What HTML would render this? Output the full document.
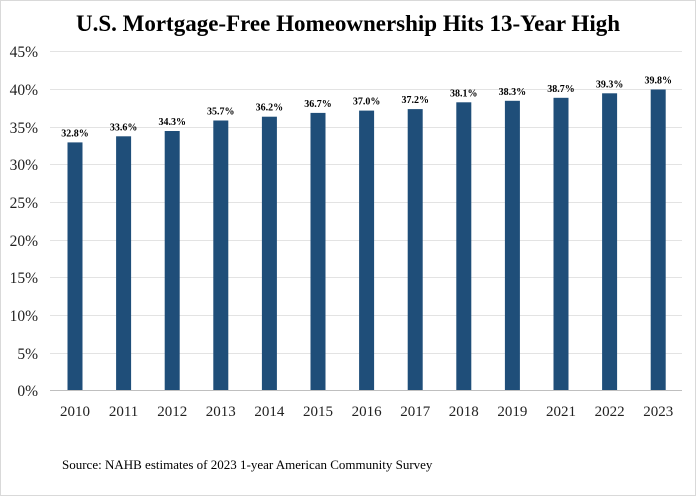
<!DOCTYPE html><html><head><style>body{margin:0;background:#fff}</style></head><body>
<svg width="696" height="496" xmlns="http://www.w3.org/2000/svg" font-family="Liberation Serif, serif">
<rect x="0.5" y="0.5" width="695" height="495" fill="#fff" stroke="#d9d9d9"/>
<text x="348" y="31" text-anchor="middle" font-size="23" font-weight="bold">U.S. Mortgage-Free Homeownership Hits 13-Year High</text>
<g stroke="#e3e3e3" stroke-width="1">
<line x1="50" x2="682" y1="51.5" y2="51.5"/><line x1="50" x2="682" y1="89.5" y2="89.5"/><line x1="50" x2="682" y1="127.5" y2="127.5"/><line x1="50" x2="682" y1="164.5" y2="164.5"/><line x1="50" x2="682" y1="202.5" y2="202.5"/><line x1="50" x2="682" y1="240.5" y2="240.5"/><line x1="50" x2="682" y1="277.5" y2="277.5"/><line x1="50" x2="682" y1="315.5" y2="315.5"/><line x1="50" x2="682" y1="353.5" y2="353.5"/></g>
<line x1="50" x2="682" y1="390.5" y2="390.5" stroke="#bfbfbf"/>
<g font-size="15.5" text-anchor="end" fill="#222">
<text x="38" y="57">45%</text><text x="38" y="95">40%</text><text x="38" y="133">35%</text><text x="38" y="170">30%</text><text x="38" y="208">25%</text><text x="38" y="246">20%</text><text x="38" y="283">15%</text><text x="38" y="321">10%</text><text x="38" y="359">5%</text><text x="38" y="396">0%</text></g>
<g fill="#1f4e79">
<rect x="67.5" y="142.4" width="15" height="247.6"/>
<rect x="116.1" y="136.3" width="15" height="253.7"/>
<rect x="164.7" y="131" width="15" height="259"/>
<rect x="213.3" y="120.5" width="15" height="269.5"/>
<rect x="261.9" y="116.7" width="15" height="273.3"/>
<rect x="310.5" y="112.9" width="15" height="277.1"/>
<rect x="359.1" y="110.6" width="15" height="279.4"/>
<rect x="407.7" y="109.1" width="15" height="280.9"/>
<rect x="456.3" y="102.3" width="15" height="287.7"/>
<rect x="504.9" y="100.8" width="15" height="289.2"/>
<rect x="553.5" y="97.8" width="15" height="292.2"/>
<rect x="602.1" y="93.3" width="15" height="296.7"/>
<rect x="650.7" y="89.5" width="15" height="300.5"/>
</g>
<g font-size="10" font-weight="bold" text-anchor="middle">
<text x="75" y="136.4">32.8%</text>
<text x="123.6" y="130.3">33.6%</text>
<text x="172.2" y="125">34.3%</text>
<text x="220.8" y="114.5">35.7%</text>
<text x="269.4" y="110.7">36.2%</text>
<text x="318" y="106.9">36.7%</text>
<text x="366.6" y="104.6">37.0%</text>
<text x="415.2" y="103.1">37.2%</text>
<text x="463.8" y="96.3">38.1%</text>
<text x="512.4" y="94.8">38.3%</text>
<text x="561" y="91.8">38.7%</text>
<text x="609.6" y="87.3">39.3%</text>
<text x="658.2" y="83.5">39.8%</text>
</g>
<g font-size="15" text-anchor="middle" fill="#222">
<text x="75" y="416">2010</text><text x="123.6" y="416">2011</text><text x="172.2" y="416">2012</text><text x="220.8" y="416">2013</text><text x="269.4" y="416">2014</text><text x="318" y="416">2015</text><text x="366.6" y="416">2016</text><text x="415.2" y="416">2017</text><text x="463.8" y="416">2018</text><text x="512.4" y="416">2019</text><text x="561" y="416">2021</text><text x="609.6" y="416">2022</text><text x="658.2" y="416">2023</text>
</g>
<text x="62" y="469" font-size="13">Source: NAHB estimates of 2023 1-year American Community Survey</text>
</svg></body></html>
